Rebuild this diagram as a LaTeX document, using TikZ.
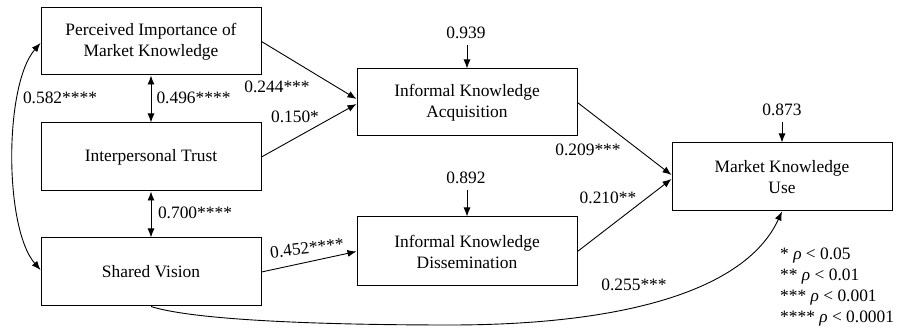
\documentclass[tikz,border=0pt]{standalone}
\usepackage{fontspec}
\setmainfont{Liberation Serif}
\usetikzlibrary{arrows.meta}
\begin{document}
\begin{tikzpicture}[x=1pt,y=-1pt,
  font=\fontsize{17.4}{21}\selectfont,
  varbox/.style={draw,line width=1pt,minimum width=220pt,minimum height=68pt,align=center,inner sep=0pt},
  path/.style={line width=0.9pt,-{Latex[length=9pt,width=7pt]}},
  bipath/.style={line width=0.9pt,{Latex[length=9pt,width=7pt]}-{Latex[length=9pt,width=7pt]}},
  lbl/.style={inner sep=0pt}]
\useasboundingbox (0,0) rectangle (898,328);
% boxes
\node[varbox,minimum height=67pt] (pimk) at (151,41.5) {Perceived Importance of\\Market Knowledge};
\node[varbox] (it) at (151,157) {Interpersonal Trust};
\node[varbox] (sv) at (151,272) {Shared Vision};
\node[varbox,minimum height=67pt] (ika) at (467,102.5) {Informal Knowledge\\Acquisition};
\node[varbox,minimum height=69pt] (ikd) at (467,251.5) {Informal Knowledge\\Dissemination};
\node[varbox] (mku) at (782,177) {Market Knowledge\\Use};
% residual labels
\node[lbl] (r1) at (466,33) {0.939};
\node[lbl] (r2) at (466,178) {0.892};
\node[lbl] (r3) at (782,110) {0.873};
\coordinate (r1s) at (467,45);
\coordinate (r2s) at (467,190);
\coordinate (r3s) at (782,122);
\draw[path] (r1s) -- (ika.north);
\draw[path] (r2s) -- (ikd.north);
\draw[path] (r3s) -- (mku.north);
% structural paths
\draw[path] (pimk.east) -- ([yshift=3.5pt]ika.west);
\draw[path] (it.east) -- ([yshift=-1.5pt]ika.west);
\draw[path] (sv.east) -- (ikd.west);
\draw[path] (ika.east) -- ([yshift=2pt]mku.west);
\draw[path] (ikd.east) -- ([yshift=-2pt]mku.west);
% correlations
\draw[bipath] (pimk.south) -- (it.north);
\draw[bipath] (it.south) -- (sv.north);
\draw[bipath] ([yshift=-1.5pt]pimk.west) .. controls (4,85) and (4,228) .. ([yshift=2pt]sv.west);
% direct path SV -> MKU
\coordinate (low) at (450,325);
\draw[line width=0.9pt] (sv.south) .. controls (200,322) and (350,325) .. (low);
\draw[path] (low) .. controls (620,325) and (745,292) .. (mku.south);
% coefficient labels
\node[lbl] at (277,87) {0.244***};
\node[lbl] at (295,117) {0.150*};
\node[lbl] at (193.5,98) {0.496****};
\node[lbl] at (60,98) {0.582****};
\node[lbl] at (195,213) {0.700****};
\node[lbl,rotate=7] at (307,248) {0.452****};
\node[lbl] at (588,150) {0.209***};
\node[lbl] at (608,198) {0.210**};
\node[lbl] at (634,285) {0.255***};
% legend
\node[lbl,anchor=west,align=left] (legend) at (780,287) {* {\itshape ρ} < 0.05\\** {\itshape ρ} < 0.01\\*** {\itshape ρ} < 0.001\\**** {\itshape ρ} < 0.0001};
\end{tikzpicture}
\end{document}
